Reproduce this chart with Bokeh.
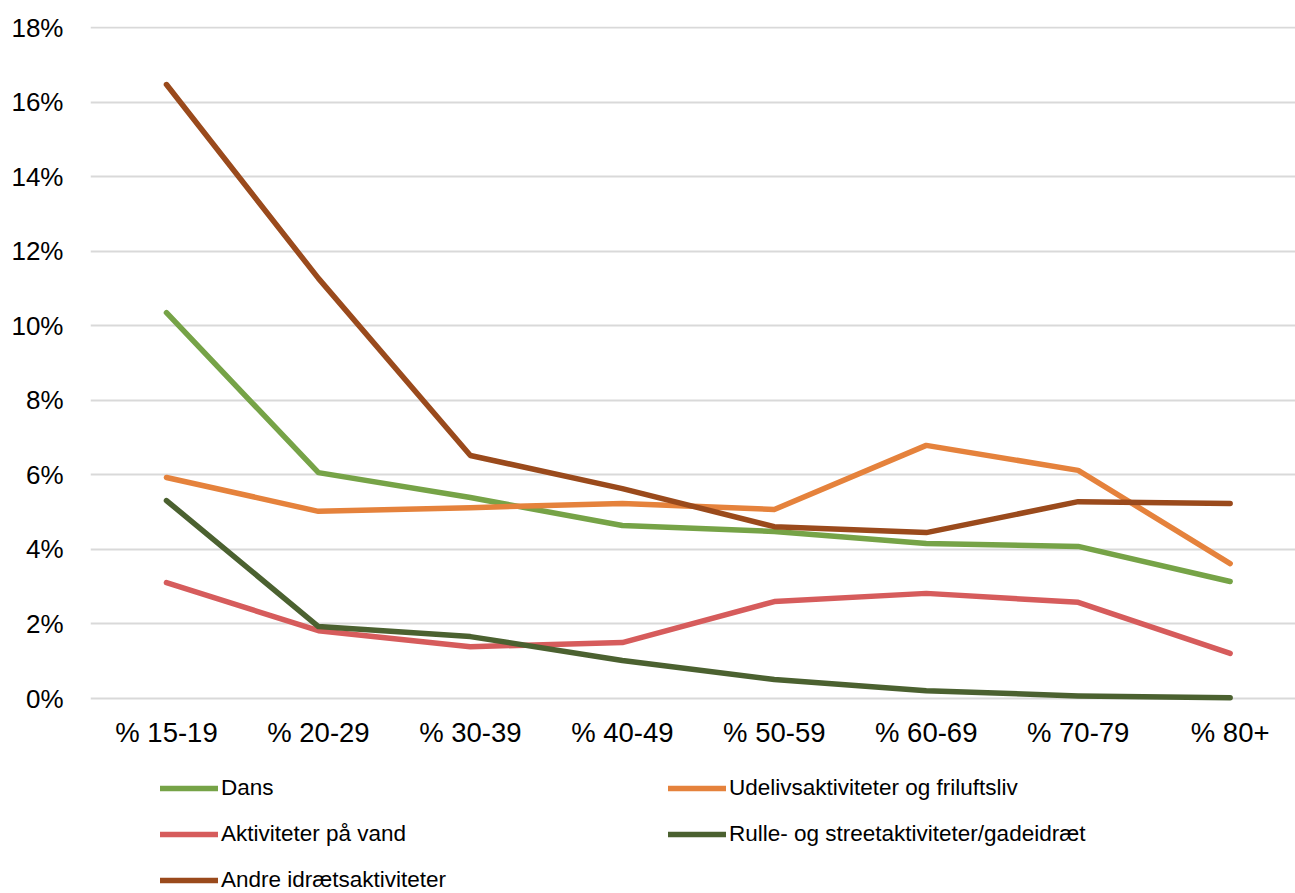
import numpy as np
from bokeh.plotting import figure
from bokeh.models import Range1d, FixedTicker, PrintfTickFormatter, Legend, LegendItem
from bokeh.embed import file_html
from bokeh.resources import INLINE

categories = ["% 15-19", "% 20-29", "% 30-39", "% 40-49", "% 50-59", "% 60-69", "% 70-79", "% 80+"]
dans = [10.35, 6.06, 5.39, 4.64, 4.48, 4.16, 4.08, 3.14]
udeliv = [5.93, 5.02, 5.12, 5.23, 5.07, 6.79, 6.12, 3.62]
vand = [3.11, 1.82, 1.39, 1.50, 2.60, 2.82, 2.58, 1.21]
rulle = [5.31, 1.93, 1.66, 1.02, 0.51, 0.21, 0.07, 0.02]
andre = [16.47, 11.27, 6.52, 5.63, 4.61, 4.45, 5.28, 5.23]
y_ticks = [0, 2, 4, 6, 8, 10, 12, 14, 16, 18]

names = ["Dans", "Udelivsaktiviteter og friluftsliv", "Aktiviteter på vand",
         "Rulle- og streetaktiviteter/gadeidræt", "Andre idrætsaktiviteter"]
series = [dans, udeliv, vand, rulle, andre]
colors = ["#76A347", "#E5823C", "#D65C5C", "#4B6130", "#9A4A1C"]

FONT = "Liberation Sans"
x = list(range(len(categories)))

# layout (pixels)
W, H = 1295, 893
TOP, ZERO_Y = 26, 698          # frame top, y of the 0% line
px_per_unit = (ZERO_Y - 27) / 18.0
y_end = 18 + (27 - TOP) / px_per_unit
y_start = -(H - ZERO_Y) / px_per_unit

p = figure(width=W, height=H, output_backend="svg", toolbar_location=None,
           x_range=Range1d(-0.5, 7.43), y_range=Range1d(y_start, y_end),
           min_border_left=90, min_border_top=TOP, min_border_right=0, min_border_bottom=0)
p.outline_line_color = None
p.background_fill_color = "white"
p.border_fill_color = "white"

renderers = []
for ys, c in zip(series, colors):
    r = p.line(x, ys, line_color=c, line_width=5.5, line_cap="round", line_join="round")
    renderers.append(r)

p.xgrid.grid_line_color = None
p.ygrid.grid_line_color = "#D9D9D9"
p.ygrid.grid_line_width = 2

p.yaxis.ticker = FixedTicker(ticks=y_ticks)
p.yaxis.formatter = PrintfTickFormatter(format="%d%%")
p.xaxis.ticker = FixedTicker(ticks=x)
p.xaxis.major_label_overrides = {i: c for i, c in enumerate(categories)}
p.xaxis.fixed_location = 0
for ax in (p.xaxis[0], p.yaxis[0]):
    ax.axis_line_color = None
    ax.major_tick_line_color = None
    ax.minor_tick_line_color = None
    ax.major_label_text_font = FONT
    ax.major_label_text_color = "#000000"
p.yaxis.major_label_text_font_size = "26px"
p.xaxis.major_label_text_font_size = "27.5px"
p.yaxis.major_label_standoff = 21
p.xaxis.major_label_standoff = 12

# column-major legend order: col 1 = Dans, vand, Andre ; col 2 = Udeliv, Rulle
order = [0, 2, 4, 1, 3]
items = [LegendItem(label=names[i], renderers=[renderers[i]]) for i in order]
legend = Legend(items=items, ncols=2, location=(70, 0),
                label_text_font=FONT, label_text_font_size="22.5px", label_text_color="#000000",
                glyph_width=58, glyph_height=24, label_height=24, label_width=427,
                label_standoff=3, spacing=20, padding=0, margin=0,
                border_line_color=None, background_fill_alpha=0)
p.add_layout(legend, "center")

open("out.html", "w").write(file_html(p, INLINE))
